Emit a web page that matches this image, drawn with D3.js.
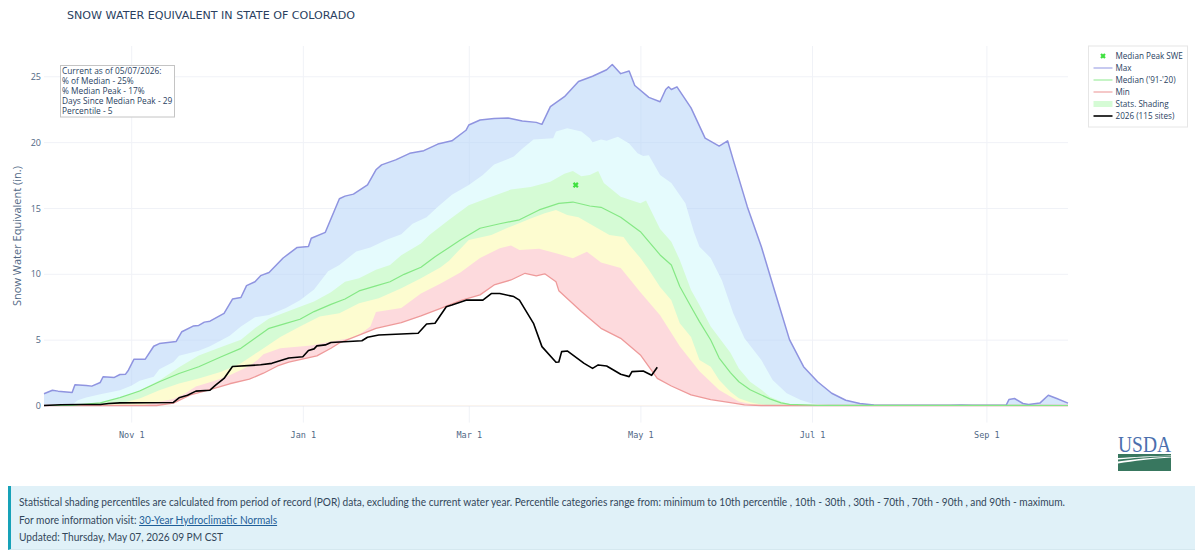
<!DOCTYPE html>
<html>
<head>
<meta charset="utf-8">
<script src="https://cdn.jsdelivr.net/npm/d3@7"></script>
<style>
    html, body { margin: 0; padding: 0; background: #fff; overflow: hidden; }
    svg { position: absolute; left: 0; top: 0; }
    .title { font: 11.1px "DejaVu Sans"; fill: #2a3f5f; }
    .ytitle { font: 11px "Open Sans"; fill: #506784; }
    .note { font: 8.35px "Open Sans"; fill: #2a3f5f; }
    .legend-text { font: 8.15px "Open Sans"; fill: #2a3f5f; }
    .axis path { display: none; }
    .axis line { stroke: #f0f2f7; }
    .y-axis text { font: 9px "Open Sans"; fill: #506784; }
    .x-axis text { font: 8.5px "DejaVu Sans Mono"; fill: #506784; }
    #footer {
        position: absolute; left: 8px; top: 486px; width: 1187px; height: 64px;
        background: #e0f1f8; border-left: 3px solid #17a2b8; border-bottom: 1px solid #d5e8ef;
        font: 12px/17.5px Lato, sans-serif; color: #33475b; padding-top: 7px;
        box-sizing: border-box; padding-left: 8px; white-space: nowrap;
    }
    #footer div { transform-origin: left center; transform: scaleX(0.845); }
    #footer a { color: #1f5f99; }
</style>
</head>
<body>
<svg width="1200" height="556"></svg>
<div id="footer"></div>
<script>
const titleText = 'SNOW WATER EQUIVALENT IN STATE OF COLORADO';
const yTitle = 'Snow Water Equivalent (in.)';
const noteLines = ['Current as of 05/07/2026:', '% of Median - 25%', '% Median Peak - 17%', 'Days Since Median Peak - 29', 'Percentile - 5'];
const footerLines = [
    'Statistical shading percentiles are calculated from period of record (POR) data, excluding the current water year. Percentile categories range from: minimum to 10th percentile , 10th - 30th , 30th - 70th , 70th - 90th , and 90th - maximum.',
    'For more information visit: ',
    'Updated: Thursday, May 07, 2026 09 PM CST'
];
const linkText = '30-Year Hydroclimatic Normals';
const yTicks = [0, 5, 10, 15, 20, 25];
const xTickDates = ['2025-11-01', '2026-01-01', '2026-03-01', '2026-05-01', '2026-07-01', '2026-09-01'];

// every series: days since Oct 1, inches
const maxDays = [0,3,5,10,11,15,17,20,21,25,27,29,30,32,36,39,41,47,49,53,55,57,59,64,67,70,72,75,77,80,85,90,94,95,100,105,107,110,115,118,120,125,130,135,140,145,150,151,155,160,165,170,175,177,180,185,190,195,200,202,205,208,210,215,219,221,222,223,225,230,235,240,243,245,250,255,260,265,270,275,280,285,290,295,322,326,330,342,343,345,348,350,354,357,360,364];
const maxSwe = [.89,1.16,1.09,.99,1.57,1.52,1.47,1.75,2.18,2.13,2.35,2.38,2.68,3.52,3.52,4.5,4.7,4.86,5.6,6.03,6.08,6.33,6.4,7,8.08,8.2,9.1,9.4,9.86,10.1,11.2,12,12.07,12.7,13.15,15.7,15.9,16.05,16.75,17.9,18.27,18.65,19.15,19.35,19.85,20.1,20.9,21.3,21.68,21.8,21.83,21.6,21.5,21.35,22.7,23.45,24.6,25,25.5,25.9,25.2,25.4,24.3,23.4,23.07,24,24.2,24,24.2,22.6,20.3,19.7,20.1,18.65,15.1,12.06,8.5,5,2.95,1.8,.93,.4,.15,.03,.01,.03,.01,.02,.45,.53,.15,.08,.18,.78,.53,.18];

const p90Days = [0,5,10,12,15,20,27,31,34,39,41,46,48,55,59,66,70,75,80,86,91,96,101,105,111,116,122,127,131,136,140,145,151,156,160,167,170,174,181,182,186,191,194,195,198,200,204,208,211,213,215,219,223,228,231,233,237,241,245,249,255,259,264,269,273,279,295,364];
const p90Swe = [0,.02,.05,.4,.6,.86,1.16,1.5,1.87,2.18,2.76,3.3,3.77,4.15,4.5,5.3,6,6.7,6.87,7.4,8,8.8,10.2,10.67,11.7,12,12.6,13,13.8,14.3,15.1,16,16.75,17.5,18.3,18.9,19.5,20.2,20.3,20.8,21.05,20.8,20.3,20,20.2,20.1,20.4,19.9,19.15,18.95,19,17.5,16.9,15.35,13.2,12.06,11.2,9.5,7,5.1,3.45,1.94,.92,.42,.16,.03,0,0];

const p70Days = [0,10,13,20,27,34,41,48,55,63,70,75,80,91,96,102,107,112,118,123,127,134,137,144,151,159,166,173,180,185,188,191,194,197,199,205,212,214,219,223,226,230,233,237,240,244,247,251,255,258,262,265,275,290,364];
const p70Swe = [0,.02,.1,.2,.53,1.16,1.9,2.9,3.8,4.45,5,5.86,6.6,7.5,7.9,8.6,9.4,9.66,10.3,10.67,11.4,12.3,12.95,14.1,15.2,15.86,16.4,16.6,17,17.6,17.8,17.4,17.5,17.8,16.9,15.86,15.35,15.56,13.4,12.44,11.05,8.77,7.63,6,5.15,4,2.8,1.8,1.2,.67,.3,.1,.02,0,0];

const medianDays = [0,10,13,20,27,34,41,48,55,63,70,75,80,86,91,96,102,107,112,118,123,128,134,139,144,148,155,162,169,176,183,188,194,198,205,212,215,219,223,226,230,233,237,240,244,247,251,255,258,262,265,275,364];
const medianSwe = [0,.01,.06,.2,.6,1.1,1.8,2.43,2.94,3.7,4.34,5.1,5.86,6.24,6.55,7.13,7.68,8.09,8.7,9.08,9.4,9.96,10.5,11.3,12,12.57,13.46,13.8,14.1,14.85,15.35,15.45,15.15,15.05,14.3,13.2,12.44,11.43,10.67,9.03,7.5,6.37,4.97,3.6,2.5,1.8,1.2,.8,.5,.2,.08,.01,0];

const p30Days = [0,20,27,34,41,48,55,63,70,77,84,91,98,105,112,119,127,134,141,144,151,159,166,173,178,182,186,190,194,201,206,208,212,215,219,223,226,230,233,237,240,244,247,251,255,258,364];
const p30Swe = [0,0,.15,.53,1.16,1.67,2.05,2.56,3.2,4.2,5.2,6,6.75,7,7.76,8.14,8.9,9.66,10.5,11,12.57,12.95,13.6,14.2,14.6,14.85,14.47,14.3,13.8,12.95,12.8,12.2,11.2,10.3,9,8,6.24,5.2,3.45,2.95,1.94,1.05,.54,.25,.08,0,0];

const p10Days = [0,35,37,41,46,50,54,61,66,73,76,78,84,95,102,111,116,118,127,134,141,148,155,162,166,169,176,183,188,193,198,205,212,219,226,233,240,247,252,258,364];
const p10Swe = [0,0,.1,.28,.5,.9,1.44,1.9,2.3,3,3.47,3.9,4.34,4.55,4.85,5.2,6,7.1,7.4,8.5,9.27,10.1,11.2,11.94,12.14,11.8,11.9,11.5,11.18,11.68,10.85,10.45,8.6,6.85,4.5,2.6,1.18,.3,.08,0,0];

const minDays = [0,40,46,52,59,66,73,78,83,87,97,102,105,112,118,127,134,141,148,155,160,166,171,175,178,182,183,191,198,205,212,218,223,230,237,244,249,255,364];
const minSwe = [0,0,.18,.8,1.2,1.65,2,2.45,3,3.3,3.77,4.35,4.75,5.35,5.86,6.3,6.8,7.38,7.96,8.4,9.15,9.53,10.04,9.84,10,9.4,8.72,7.13,5.86,5.1,3.84,2.06,1.48,.8,.45,.22,.05,0,0];

const currentDays = [0,6,13,20,23,27,46,48,51,54,59,61,64,67,77,81,87,92,94,96,97,100,102,113,115,119,133,136,139,143,145,150,156,159,162,167,169,174,177,182,183,184,186,192,195,197,200,205,208,209,213,216,218];
const currentSwe = [0,.05,.07,.07,.15,.2,.23,.58,.78,1.09,1.16,1.54,2.05,2.96,3.09,3.2,3.6,3.7,4.18,4.3,4.53,4.6,4.78,4.92,5.18,5.35,5.48,6.19,6.24,7.5,7.63,8,8,8.5,8.5,8.27,8,6.24,4.47,3.28,3.3,4.09,4.14,3.2,2.82,3.08,3,2.37,2.19,2.57,2.62,2.29,2.9];

const peakDay = [189.5];
const peakSwe = [16.74];

const legendNames = ['Median Peak SWE', 'Max', "Median ('91-'20)", 'Min', 'Stats. Shading', '2026 (115 sites)'];
const legendColors = ['#3fe03f', '#a9aee8', '#a8eea8', '#f0aaaa', '#d5fbd5', '#000'];

let svg = d3.select('svg');
const start = new Date(2025, 9, 1);
const toDate = d => new Date(2025, 9, 1 + d);
let x = d3.scaleTime().domain([start, toDate(364)]).range([44, 1068]);
let y = d3.scaleLinear().domain([-1.3, 27.3]).range([422.6, 46]);

function zipped(days, vals) { return days.map((d, i) => [toDate(d), vals[i]]); }

svg.append('text').attr('class', 'title').attr('x', 67).attr('y', 19).text(titleText);
svg.append('text').attr('class', 'ytitle')
    .attr('transform', 'translate(21,236) rotate(-90)')
    .attr('text-anchor', 'middle').text(yTitle);

// grid first, then the bands painted from the top one down
let xAxis = svg.append('g').attr('class', 'axis x-axis').attr('transform', 'translate(0,422.6)')
    .call(d3.axisBottom(x).tickValues(xTickDates.map(d => d3.timeParse('%Y-%m-%d')(d)))
        .tickFormat(d3.timeFormat('%b %-d')).tickSize(-376.6).tickPadding(9));
let yAxis = svg.append('g').attr('class', 'axis y-axis').attr('transform', 'translate(44,0)')
    .call(d3.axisLeft(y).tickValues(yTicks).tickSize(-1024).tickPadding(3));
yAxis.selectAll('text').attr('dy', '0.34em');
yAxis.selectAll('.tick').filter(d => d === 0).select('line').style('stroke', '#e3e6ee');

let area = d3.area().x(d => x(d[0])).y0(y(0)).y1(d => y(d[1]));
let line = d3.line().x(d => x(d[0])).y(d => y(d[1]));

const bands = [
    [maxDays, maxSwe, 'rgba(181,212,247,0.56)'],
    [p90Days, p90Swe, '#e5fbfd'],
    [p70Days, p70Swe, '#d5fbd5'],
    [p30Days, p30Swe, '#fdfcd0'],
    [p10Days, p10Swe, '#fddadd'],
    [minDays, minSwe, '#fff']
];
svg.append('g').selectAll('path').data(bands).enter().append('path')
    .attr('d', d => area(zipped(d[0], d[1])))
    .attr('fill', d => d[2]);

const lines = [
    [minDays, minSwe, '#ee9a9a', 1.3],
    [maxDays, maxSwe, '#8f94e0', 1.5],
    [medianDays, medianSwe, '#85e885', 1.2],
    [currentDays, currentSwe, '#000', 1.6]
];
svg.append('g').selectAll('path').data(lines).enter().append('path')
    .attr('d', d => line(zipped(d[0], d[1])))
    .attr('fill', 'none')
    .attr('stroke', d => d[2])
    .attr('stroke-width', d => d[3])
    .attr('stroke-linejoin', 'round');

svg.append('g').selectAll('path').data(peakDay).enter().append('path')
    .attr('transform', (d, i) => `translate(${x(toDate(d))},${y(peakSwe[i])})`)
    .attr('d', d3.symbol(d3.symbolX, 14))
    .attr('stroke', '#3fe03f').attr('stroke-width', 2.2).attr('fill', 'none');

// note box
let note = svg.append('g').attr('transform', 'translate(60,65)');
note.append('rect').attr('x', 0.5).attr('y', 0.5).attr('width', 114).attr('height', 51.5)
    .attr('fill', '#fff').attr('stroke', '#c4c4c4').attr('stroke-width', 1);
note.selectAll('text').data(noteLines).enter().append('text')
    .attr('class', 'note').attr('x', 2).attr('y', (d, i) => 9.3 + i * 9.9).text(d => d);

// legend
let legend = svg.append('g').attr('transform', 'translate(1088.5,46)');
legend.append('rect').attr('x', 0).attr('y', 0).attr('width', 99).attr('height', 81)
    .attr('fill', '#fff').attr('stroke', '#e6e6e6');
let rows = legend.selectAll('g').data(legendNames).enter().append('g')
    .attr('transform', (d, i) => `translate(0,${10 + i * 12})`);
rows.append('text').attr('class', 'legend-text').attr('x', 27).attr('y', 3).text(d => d);
rows.each(function (d, i) {
    let row = d3.select(this);
    if (i === 0) {
        row.append('path').attr('transform', 'translate(14.5,0)').attr('d', d3.symbol(d3.symbolX, 12))
            .attr('stroke', legendColors[i]).attr('stroke-width', 2.2);
    } else if (i === 4) {
        row.append('rect').attr('x', 5).attr('y', -3).attr('width', 19).attr('height', 6).attr('fill', legendColors[i]);
    } else {
        row.append('line').attr('x1', 5).attr('x2', 24).attr('stroke', legendColors[i])
            .attr('stroke-width', i === 5 ? 1.6 : 1.3);
    }
});

// USDA mark
let logo = svg.append('g').attr('transform', 'translate(1118,436)');
logo.append('text').attr('x', 26.5).attr('y', 16).attr('text-anchor', 'middle')
    .attr('textLength', 53).attr('lengthAdjust', 'spacingAndGlyphs')
    .style('font', '24px "Liberation Serif"').attr('fill', '#4b6fae').text('USDA');
logo.append('path').attr('fill', '#38775f')
    .attr('d', 'M0 27.5 C15 25 35 22.5 53 21.5 L53 35 L0 35 Z');
logo.append('path').attr('fill', '#38775f')
    .attr('d', 'M0 18 L53 18 L53 19.5 C35 20 15 21 0 22 Z');
logo.append('path').attr('fill', '#38775f')
    .attr('d', 'M0 23.5 C15 22 35 20.5 53 20 L53 20.8 C35 21.5 15 23.5 0 25.5 Z');

// footer
let footer = d3.select('#footer');
footer.append('div').text(footerLines[0]);
let more = footer.append('div');
more.append('span').text(footerLines[1]);
more.append('a').attr('href', '#').text(linkText);
footer.append('div').text(footerLines[2]);
</script>
</body>
</html>
